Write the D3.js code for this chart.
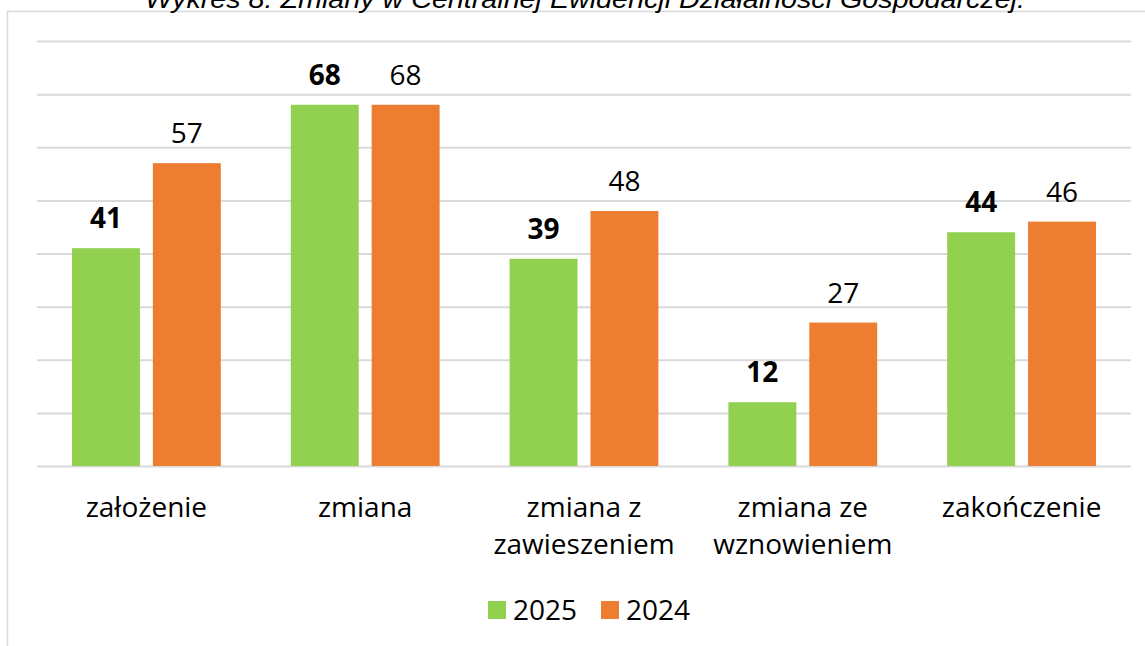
<!DOCTYPE html>
<html><head><meta charset="utf-8">
<script src="https://cdn.jsdelivr.net/npm/d3@7"></script>
<style>html,body{margin:0;padding:0;background:#fff;overflow:hidden}</style>
</head><body>
<svg id="c" width="1145" height="646"></svg>
<script>
const title = "Wykres 8. Zmiany w Centralnej Ewidencji Działalności Gospodarczej.";
const categories = [["założenie"],["zmiana"],["zmiana z","zawieszeniem"],["zmiana ze","wznowieniem"],["zakończenie"]];
const seriesNames = ["2025","2024"];
const values2025 = [41,68,39,12,44];
const values2024 = [57,68,48,27,46];
const yTicks = [0,10,20,30,40,50,60,70,80];
const colors = ["#92D050","#ED7D31"];

const svg = d3.select("#c");
const font = "'Open Sans', sans-serif";
const FS = 28;
const M = {left:37, right:1131, top:41, bottom:466};

// chart border
svg.append("rect").attr("x",7.5).attr("y",11.5).attr("width",1300).attr("height",800)
  .attr("fill","none").attr("stroke","#d9d9d9").attr("stroke-width",1.5);

// title (clipped at top, as in the source)
svg.append("text").attr("x",585).attr("y",8).attr("text-anchor","middle")
  .attr("font-family","'Liberation Sans', Arial, sans-serif").attr("font-style","italic")
  .attr("font-size",25).attr("fill","#000").attr("textLength",880).attr("lengthAdjust","spacingAndGlyphs")
  .text(title);

const y = d3.scaleLinear().domain([0,80]).range([M.bottom,M.top]);
const x0 = d3.scaleBand().domain(d3.range(categories.length)).range([M.left,M.right]).paddingInner(0).paddingOuter(0);
const x1 = d3.scaleBand().domain([0,1]).range([35, x0.bandwidth()-35]).paddingInner(0.16);

const yAxis = d3.axisLeft(y).tickValues(yTicks).tickSize(-(M.right-M.left)).tickFormat("");
const gy = svg.append("g").attr("transform",`translate(${M.left},0)`).call(yAxis);
gy.select(".domain").remove();
gy.selectAll(".tick line").attr("stroke","#d9d9d9").attr("stroke-width",2);

const data = categories.map((c,i)=>({i, vals:[values2025[i], values2024[i]]}));
const g = svg.append("g");
const groups = g.selectAll("g.grp").data(data).join("g").attr("transform",d=>`translate(${x0(d.i)},0)`);
groups.selectAll("rect").data(d=>d.vals.map((v,s)=>({v,s}))).join("rect")
  .attr("x",d=>x1(d.s)).attr("width",x1.bandwidth())
  .attr("y",d=>y(d.v)).attr("height",d=>y(0)-y(d.v))
  .attr("fill",d=>colors[d.s]);
groups.selectAll("text.lbl").data(d=>d.vals.map((v,s)=>({v,s}))).join("text")
  .attr("class","lbl")
  .attr("x",d=>x1(d.s)+x1.bandwidth()/2).attr("y",d=>y(d.v)-20)
  .attr("text-anchor","middle").attr("font-family",font).attr("font-size",FS)
  .attr("font-weight",d=>d.s===0?"bold":"normal").attr("fill","#000")
  .text(d=>d.v);

// category labels
const xAxis = svg.append("g");
categories.forEach((lines,i)=>{
  const t = xAxis.append("text").attr("x",x0(i)+x0.bandwidth()/2).attr("y",517)
    .attr("text-anchor","middle").attr("font-family",font).attr("font-size",FS).attr("fill","#000");
  lines.forEach((l,j)=>t.append("tspan").attr("x",x0(i)+x0.bandwidth()/2).attr("dy",j===0?0:37).text(l));
});

// legend
const leg = svg.append("g");
const legX = [488, 601];
seriesNames.forEach((n,i)=>{
  leg.append("rect").attr("x",legX[i]).attr("y",601).attr("width",18).attr("height",18).attr("fill",colors[i]);
  leg.append("text").attr("x",legX[i]+25).attr("y",620).attr("font-family",font).attr("font-size",FS).attr("fill","#000").text(n);
});
</script>
</body></html>
